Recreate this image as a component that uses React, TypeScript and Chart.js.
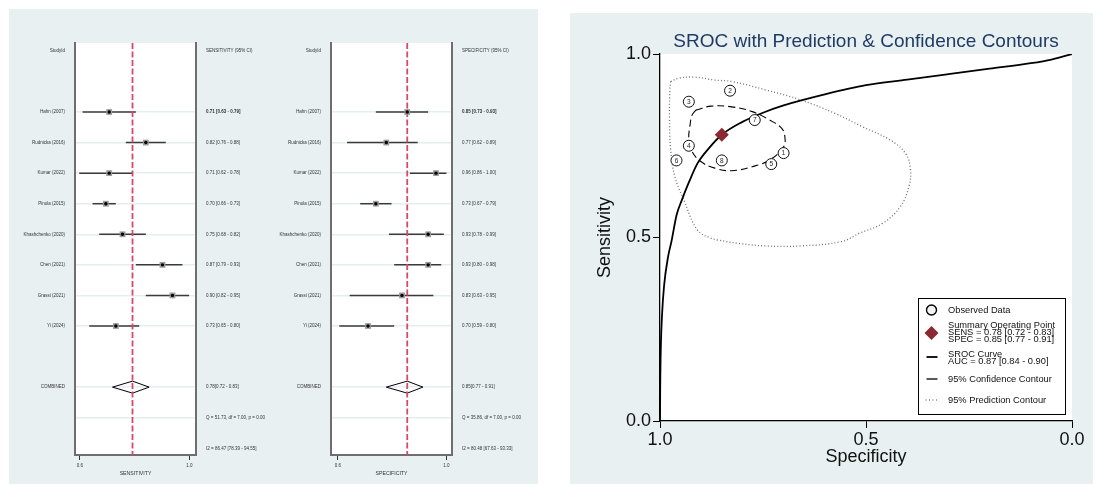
import React, { useEffect, useRef } from 'react';
import { Chart, registerables } from 'chart.js';
Chart.register(...registerables);

// ---------------- Data ----------------
const studies = ['Hahn (2007)', 'Rudnicka (2016)', 'Kumar (2022)', 'Pinola (2015)', 'Khashchenko (2020)', 'Chen (2021)', 'Grassi (2021)', 'Yi (2024)'];
const sensValues = [0.71, 0.82, 0.71, 0.70, 0.75, 0.87, 0.90, 0.73];
const sensLower = [0.63, 0.76, 0.62, 0.66, 0.68, 0.79, 0.82, 0.65];
const sensUpper = [0.79, 0.88, 0.78, 0.73, 0.82, 0.93, 0.95, 0.80];
const specValues = [0.85, 0.77, 0.96, 0.73, 0.93, 0.93, 0.83, 0.70];
const specLower = [0.73, 0.62, 0.86, 0.67, 0.78, 0.80, 0.63, 0.59];
const specUpper = [0.93, 0.89, 1.00, 0.79, 0.99, 0.98, 0.95, 0.80];
const sensPooled = [0.78, 0.72, 0.83];
const specPooled = [0.85, 0.77, 0.91];
const sensHeterogeneity = ['Q = 51.73, df = 7.00, p = 0.00', 'I2 = 86.47 [78.39 - 94.55]'];
const specHeterogeneity = ['Q = 35.86, df = 7.00, p = 0.00', 'I2 = 80.48 [67.63 - 93.33]'];
const sensAxisTickValues = [0.622, 0.951];
const specAxisTickValues = [0.585, 1.0];
const forestTickLabels = ['0.6', '1.0'];

const studyIds = [8, 7, 6, 5, 4, 3, 2, 1];
const aucValues = [0.87, 0.84, 0.90];
const srocSpec = [1.0, 0.9995, 0.998, 0.995, 0.99, 0.98, 0.972, 0.96, 0.947, 0.93, 0.909, 0.88, 0.85, 0.80, 0.75, 0.70, 0.60, 0.50, 0.40, 0.30, 0.20, 0.10, 0.05, 0.0];
const srocSens = [0.0, 0.09, 0.2, 0.29, 0.37, 0.45, 0.49, 0.56, 0.602, 0.65, 0.702, 0.745, 0.78, 0.815, 0.84, 0.86, 0.89, 0.915, 0.93, 0.945, 0.96, 0.975, 0.985, 1.0];
const confSpec = [0.913, 0.876, 0.826, 0.776, 0.734, 0.705, 0.697, 0.700, 0.734, 0.776, 0.826, 0.867, 0.901, 0.922, 0.930, 0.927, 0.922, 0.913];
const confSens = [0.847, 0.858, 0.856, 0.843, 0.820, 0.798, 0.775, 0.747, 0.711, 0.693, 0.682, 0.689, 0.707, 0.734, 0.766, 0.807, 0.834, 0.847];
const predSpec = [0.974, 0.955, 0.917, 0.867, 0.826, 0.743, 0.659, 0.575, 0.509, 0.442, 0.404, 0.392, 0.396, 0.417, 0.459, 0.517, 0.559, 0.659, 0.743, 0.809, 0.859, 0.876, 0.909, 0.942, 0.964, 0.974, 0.977, 0.976, 0.974];
const predSens = [0.925, 0.934, 0.937, 0.929, 0.925, 0.902, 0.875, 0.838, 0.802, 0.766, 0.729, 0.684, 0.638, 0.584, 0.539, 0.511, 0.489, 0.477, 0.477, 0.484, 0.493, 0.498, 0.520, 0.602, 0.666, 0.738, 0.829, 0.902, 0.925];
const srocTicks = [0, 0.5, 1];

// ---------------- Styling ----------------
const FONT = '"Liberation Sans", Arial, Helvetica, sans-serif';
const PANEL = '#e8f0f2';
const TXT = '#333';
const ROW_MIN = -0.257;
const ROW_MAX = 13.22;
const COMBINED_ROW = 11;
const FOREST_FONT = 4.5;

const fmt = (v: number) => v.toFixed(2);

const whiteArea = {
  id: 'whiteArea',
  beforeDraw(chart: any) {
    const { ctx, chartArea: a } = chart;
    ctx.save();
    ctx.fillStyle = '#ffffff';
    ctx.fillRect(a.left, a.top, a.right - a.left, a.bottom - a.top);
    ctx.restore();
  },
};

function forestConfig(o: any) {
  const leftLabels: Record<number, string> = { 0: 'StudyId', [COMBINED_ROW]: 'COMBINED' };
  const rightLabels: Record<number, string> = {
    0: o.header,
    [COMBINED_ROW]: `${fmt(o.pooled[0])}[${fmt(o.pooled[1])} - ${fmt(o.pooled[2])}]`,
    [COMBINED_ROW + 1]: o.het[0],
    [COMBINED_ROW + 2]: o.het[1],
  };
  studies.forEach((s, i) => {
    leftLabels[i + 2] = s;
    rightLabels[i + 2] = `${fmt(o.est[i])} [${fmt(o.lo[i])} - ${fmt(o.hi[i])}]`;
  });
  const tickRows = Object.keys(rightLabels).map(Number).sort((a, b) => a - b);
  const gridRows = [...studies.map((_, i) => i + 2), COMBINED_ROW, COMBINED_ROW + 1];
  const pts = o.est.map((v: number, i: number) => ({ x: v, y: i + 2 }));
  const dh = 0.196;
  const p = o.pooled;
  const datasets: any[] = [
    { data: pts, pointStyle: 'circle', pointRadius: 1.7, backgroundColor: '#000', borderWidth: 0 },
    { data: pts, pointStyle: 'rect', pointRadius: 4.1, backgroundColor: '#9a9a9a', borderWidth: 0 },
    {
      data: [{ x: p[0], y: ROW_MIN }, { x: p[0], y: ROW_MAX }], showLine: true, pointRadius: 0,
      borderColor: '#d9476f', borderWidth: 1.8, borderDash: [6, 2.5],
    },
    ...studies.map((_, i) => ({
      data: [{ x: o.lo[i], y: i + 2 }, { x: o.hi[i], y: i + 2 }], showLine: true, pointRadius: 0,
      borderColor: '#3a3a3a', borderWidth: 1.5,
    })),
    {
      data: [
        { x: p[1], y: COMBINED_ROW }, { x: p[0], y: COMBINED_ROW - dh }, { x: p[2], y: COMBINED_ROW },
        { x: p[0], y: COMBINED_ROW + dh }, { x: p[1], y: COMBINED_ROW },
      ],
      showLine: true, pointRadius: 0, borderColor: '#000', borderWidth: 1,
    },
  ];
  const font = { size: FOREST_FONT, family: FONT };
  return {
    type: 'scatter',
    data: { datasets },
    plugins: [whiteArea],
    options: {
      responsive: false, animation: false, events: [],
      layout: { padding: { left: 0, right: 0, top: 33, bottom: 0 } },
      plugins: { legend: { display: false }, tooltip: { enabled: false }, title: { display: false } },
      scales: {
        x: {
          type: 'linear', position: 'bottom', min: o.xMin, max: o.xMax,
          afterBuildTicks: (s: any) => { s.ticks = o.tickVals.map((v: number) => ({ value: v })); },
          ticks: { callback: (_v: any, i: number) => forestTickLabels[i], font, color: TXT, padding: 3.5, maxRotation: 0, autoSkip: false },
          grid: { drawOnChartArea: false, drawTicks: true, tickLength: 5, color: '#333', lineWidth: 1 },
          border: { display: true, color: '#6e6e6e', width: 2 },
          title: { display: true, text: o.axisTitle, font: { size: 5.2, family: FONT }, color: TXT, padding: { top: 0, bottom: 6 } },
          afterFit: (s: any) => { s.height = 28; },
        },
        y: {
          type: 'linear', position: 'left', min: ROW_MIN, max: ROW_MAX, reverse: true,
          afterBuildTicks: (s: any) => { s.ticks = tickRows.map((v) => ({ value: v })); },
          ticks: { callback: (v: any) => leftLabels[v] ?? '', font, color: TXT, padding: 10, autoSkip: false },
          grid: {
            drawTicks: false, lineWidth: 1.5,
            color: (ctx: any) => (ctx.tick && gridRows.includes(ctx.tick.value) ? '#e4edef' : 'rgba(0,0,0,0)'),
          },
          border: { display: true, color: '#6e6e6e', width: 2 },
          afterFit: (s: any) => { s.width = o.leftW; },
        },
        y2: {
          type: 'linear', position: 'right', min: ROW_MIN, max: ROW_MAX, reverse: true,
          afterBuildTicks: (s: any) => { s.ticks = tickRows.map((v) => ({ value: v })); },
          ticks: {
            callback: (v: any) => rightLabels[v] ?? '',
            font: (ctx: any) => ({ size: FOREST_FONT, family: FONT, weight: ctx.tick && ctx.tick.value === 2 ? 'bold' : 'normal' }),
            color: TXT, padding: 10, autoSkip: false,
          },
          grid: { display: false, drawTicks: false },
          border: { display: true, color: '#6e6e6e', width: 2 },
          afterFit: (s: any) => { s.width = o.rightW; },
        },
      },
    },
  };
}

const numberLabels = {
  id: 'numberLabels',
  afterDatasetsDraw(chart: any) {
    const meta = chart.getDatasetMeta(1);
    const ctx = chart.ctx;
    ctx.save();
    ctx.fillStyle = '#222';
    ctx.font = `6.5px ${FONT}`;
    ctx.textAlign = 'center';
    ctx.textBaseline = 'middle';
    meta.data.forEach((pt: any, i: number) => ctx.fillText(String(studyIds[i]), pt.x, pt.y + 0.5));
    ctx.restore();
  },
};

const srocLegend = {
  id: 'srocLegend',
  afterDraw(chart: any) {
    const { ctx, chartArea: a } = chart;
    const w = 148, h = 117;
    const L = a.right - 6 - w, T = a.bottom - 6 - h;
    ctx.save();
    ctx.fillStyle = '#fff';
    ctx.fillRect(L, T, w, h);
    ctx.strokeStyle = '#000';
    ctx.lineWidth = 1;
    ctx.strokeRect(L + 0.5, T + 0.5, w - 1, h - 1);
    const sx = L + 13.5;
    ctx.beginPath();
    ctx.arc(sx, T + 12, 5, 0, Math.PI * 2);
    ctx.fillStyle = '#f2f2f2';
    ctx.fill();
    ctx.lineWidth = 1.4;
    ctx.stroke();
    ctx.beginPath();
    ctx.moveTo(sx, T + 28); ctx.lineTo(sx + 7, T + 35); ctx.lineTo(sx, T + 42); ctx.lineTo(sx - 7, T + 35); ctx.closePath();
    ctx.fillStyle = '#8c2832';
    ctx.fill();
    ctx.strokeStyle = '#000';
    ctx.lineWidth = 1.8;
    ctx.beginPath(); ctx.moveTo(sx - 5, T + 59); ctx.lineTo(sx + 6, T + 59); ctx.stroke();
    ctx.lineWidth = 1.3;
    ctx.beginPath(); ctx.moveTo(sx - 5, T + 81); ctx.lineTo(sx + 6, T + 81); ctx.stroke();
    ctx.strokeStyle = '#888';
    ctx.setLineDash([1, 2.5]);
    ctx.beginPath(); ctx.moveTo(sx - 6, T + 102); ctx.lineTo(sx + 7, T + 102); ctx.stroke();
    ctx.setLineDash([]);
    ctx.fillStyle = '#111';
    ctx.font = `9.3px ${FONT}`;
    ctx.textAlign = 'left';
    ctx.textBaseline = 'middle';
    const tx = L + 30;
    const lines: [string, number][] = [
      ['Observed Data', 12],
      ['Summary Operating Point', 27.4],
      [`SENS = ${fmt(sensPooled[0])} [${fmt(sensPooled[1])} - ${fmt(sensPooled[2])}]`, 34.4],
      [`SPEC = ${fmt(specPooled[0])} [${fmt(specPooled[1])} - ${fmt(specPooled[2])}]`, 41],
      ['SROC Curve', 56],
      [`AUC = ${fmt(aucValues[0])} [${fmt(aucValues[1])} - ${fmt(aucValues[2])}]`, 63.7],
      ['95% Confidence Contour', 81],
      ['95% Prediction Contour', 102],
    ];
    lines.forEach(([t, y]) => ctx.fillText(t, tx, T + y));
    ctx.restore();
  },
};

function srocConfig() {
  const xy = (xs: number[], ys: number[]) => xs.map((x, i) => ({ x, y: ys[i] }));
  const datasets: any[] = [
    {
      data: [{ x: specPooled[0], y: sensPooled[0] }], pointStyle: 'rectRot', pointRadius: 7,
      backgroundColor: '#8c2832', borderColor: '#8c2832', borderWidth: 0,
    },
    {
      data: xy(specValues, sensValues), pointStyle: 'circle', pointRadius: 5.5,
      backgroundColor: '#ffffff', borderColor: '#111', borderWidth: 1,
    },
    {
      data: xy(srocSpec, srocSens), showLine: true, pointRadius: 0, borderColor: '#000', borderWidth: 1.8,
      cubicInterpolationMode: 'monotone',
    },
    {
      data: xy(confSpec, confSens), showLine: true, pointRadius: 0, borderColor: '#000', borderWidth: 1.1,
      borderDash: [7, 4], tension: 0.4,
    },
    {
      data: xy(predSpec, predSens), showLine: true, pointRadius: 0, borderColor: '#6f6f6f', borderWidth: 1.3,
      borderDash: [1, 2.2], tension: 0.4,
    },
  ];
  const tickFont = { size: 18, family: FONT };
  return {
    type: 'scatter',
    data: { datasets },
    plugins: [whiteArea, numberLabels, srocLegend],
    options: {
      responsive: false, animation: false, events: [],
      layout: { padding: { left: 0, right: 21, top: 0, bottom: 0 } },
      plugins: {
        legend: { display: false }, tooltip: { enabled: false },
        title: {
          display: true, text: 'SROC with Prediction & Confidence Contours', color: '#1f3b66',
          font: { size: 19, family: FONT, weight: 'normal' }, padding: { top: 17.6, bottom: 0.6 }, fullSize: false,
        },
      },
      scales: {
        x: {
          type: 'linear', min: 0, max: 1, reverse: true, position: 'bottom',
          afterBuildTicks: (s: any) => { s.ticks = srocTicks.map((v) => ({ value: v })); },
          ticks: { callback: (v: any) => Number(v).toFixed(1), font: tickFont, color: '#111', padding: 1, maxRotation: 0 },
          grid: { drawOnChartArea: false, tickLength: 7, color: '#000', lineWidth: 1 },
          border: { display: true, color: '#000', width: 1.3 },
          title: { display: true, text: 'Specificity', font: tickFont, color: '#111', padding: { top: 0, bottom: 16.2 } },
          afterFit: (s: any) => { s.height = 63; },
        },
        y: {
          type: 'linear', min: 0, max: 1, position: 'left',
          afterBuildTicks: (s: any) => { s.ticks = srocTicks.map((v) => ({ value: v })); },
          ticks: { callback: (v: any) => Number(v).toFixed(1), font: tickFont, color: '#111', padding: 2 },
          grid: { drawOnChartArea: false, tickLength: 7, color: '#000', lineWidth: 1 },
          border: { display: true, color: '#000', width: 1.3 },
          title: { display: true, text: 'Sensitivity', font: tickFont, color: '#111', padding: { top: 24.2, bottom: 0 } },
          afterFit: (s: any) => { s.width = 90; },
        },
      },
    },
  };
}

export default function App() {
  const sensRef = useRef<HTMLCanvasElement>(null);
  const specRef = useRef<HTMLCanvasElement>(null);
  const srocRef = useRef<HTMLCanvasElement>(null);

  useEffect(() => {
    const c1 = new Chart(sensRef.current as HTMLCanvasElement, forestConfig({
      est: sensValues, lo: sensLower, hi: sensUpper, pooled: sensPooled, het: sensHeterogeneity,
      header: 'SENSITIVITY (95% CI)', axisTitle: 'SENSITIVITY', xMin: 0.6073, xMax: 0.9707,
      tickVals: sensAxisTickValues, leftW: 65, rightW: 99,
    }) as any);
    const c2 = new Chart(specRef.current as HTMLCanvasElement, forestConfig({
      est: specValues, lo: specLower, hi: specUpper, pooled: specPooled, het: specHeterogeneity,
      header: 'SPECIFICITY (95% CI)', axisTitle: 'SPECIFICITY', xMin: 0.5585, xMax: 1.0212,
      tickVals: specAxisTickValues, leftW: 66, rightW: 85,
    }) as any);
    const c3 = new Chart(srocRef.current as HTMLCanvasElement, srocConfig() as any);
    return () => { c1.destroy(); c2.destroy(); c3.destroy(); };
  }, []);

  return (
    <div style={{ position: 'absolute', left: 0, top: 0, width: 1097, height: 484, background: '#fff', overflow: 'hidden' }}>
      <div style={{ position: 'absolute', left: 9, top: 9, width: 529, height: 475, background: PANEL }} />
      <div style={{ position: 'absolute', left: 570, top: 13, width: 523, height: 471, background: PANEL }} />
      <canvas ref={specRef} width={272} height={473} style={{ position: 'absolute', left: 265, top: 10, width: 272, height: 473 }} />
      <canvas ref={sensRef} width={285} height={473} style={{ position: 'absolute', left: 10, top: 10, width: 285, height: 473 }} />
      <canvas ref={srocRef} width={523} height={471} style={{ position: 'absolute', left: 570, top: 13, width: 523, height: 471 }} />
    </div>
  );
}
